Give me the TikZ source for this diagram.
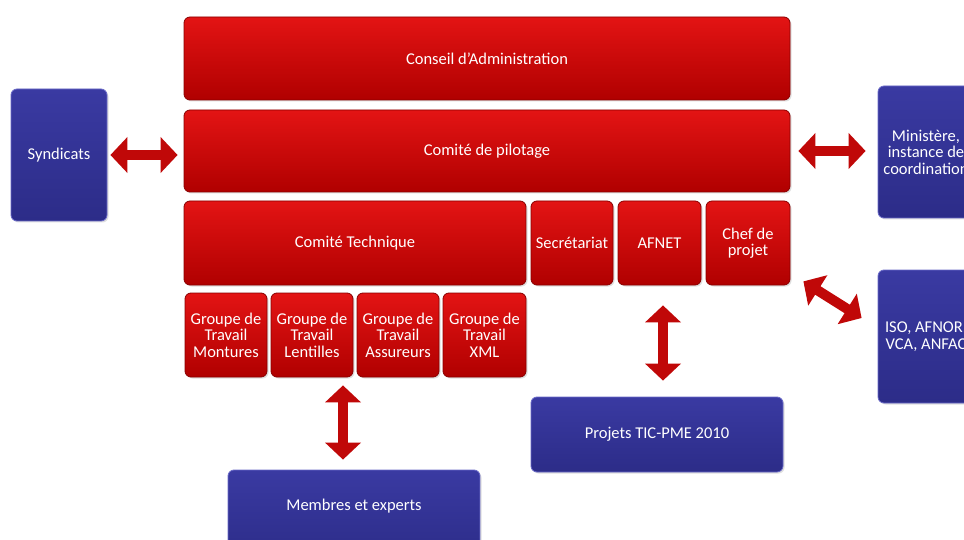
\documentclass[tikz,border=0pt]{standalone}
\usepackage{fontspec}
\setmainfont{Carlito}
\usetikzlibrary{arrows.meta,shadows,calc}
\definecolor{rtop}{HTML}{E31414}
\definecolor{rbot}{HTML}{B00000}
\definecolor{rline}{HTML}{8A0000}
\definecolor{btop}{HTML}{3A3AA2}
\definecolor{bbot}{HTML}{2C2C88}
\definecolor{bline}{HTML}{6A6AC8}
\definecolor{arr}{HTML}{C00808}
\begin{document}
\begin{tikzpicture}[x=1pt,y=-1pt,
  base/.style={rounded corners=6pt, text=white, align=center, inner sep=2pt,
    font=\fontsize{16.5}{16.5}\selectfont, line width=0.8pt,
    drop shadow={opacity=0.25, shadow xshift=1.5pt, shadow yshift=-1.5pt}},
  redbox/.style={base, top color=rtop, bottom color=rbot, draw=rline},
  bluebox/.style={base, top color=btop, bottom color=bbot, draw=bline},
  sz/.style 2 args={minimum width=#1pt, minimum height=#2pt},
  link/.style={draw=arr, line width=10pt,
    {Triangle[width=35pt,length=17pt]}-{Triangle[width=35pt,length=17pt]}},
]
\clip (0,0) rectangle (964,540);
\fill[white] (0,0) rectangle (964,540);

\node[redbox, sz={606}{83}] (conseil) at (487,58.5) {Conseil d’Administration};
\node[redbox, sz={606}{82}] (pilot) at (487,151) {Comité de pilotage};
\node[redbox, sz={342}{84}] (tech) at (355,243) {Comité Technique};
\node[redbox, sz={82}{84}] (secr) at (572,243) {Secrétariat};
\node[redbox, sz={83}{84}] (afnet) at (659.5,243) {AFNET};
\node[redbox, sz={84}{84}] (chef) at (748,243) {Chef de\\projet};

\node[redbox, sz={82}{84}] (g1) at (226,335) {Groupe de\\Travail\\Montures};
\node[redbox, sz={82}{84}] (g2) at (312,335) {Groupe de\\Travail\\Lentilles};
\node[redbox, sz={82}{84}] (g3) at (398,335) {Groupe de\\Travail\\Assureurs};
\node[redbox, sz={83}{84}] (g4) at (484.5,335) {Groupe de\\Travail\\XML};

\node[bluebox, sz={96}{132}] (syn) at (59,155) {Syndicats};
\node[bluebox, sz={96}{132}] (min) at (926,152) {Ministère,\\instance de\\coordination};
\node[bluebox, sz={96}{133}] (iso) at (926,336.5) {ISO, AFNOR,\\VCA, ANFAC};
\node[bluebox, sz={252}{75}] (proj) at (657,434.5) {Projets TIC-PME 2010};
\node[bluebox, sz={252}{90}] (memb) at (354,515) {};
\node[text=white, font=\fontsize{16.5}{16.5}\selectfont] (membt) at (354,506) {Membres et experts};

\draw[link] ([xshift=3pt]syn.east) -- ([xshift=-6pt]syn.east -| pilot.west);
\draw[link] ([xshift=8pt]pilot.east) -- ([xshift=-12pt]pilot.east -| min.west);
\draw[link] ([xshift=31pt,yshift=-8pt]g2.south) -- ([xshift=-11pt,yshift=10pt]memb.north);
\draw[link] ([xshift=3.5pt,yshift=-20pt]afnet.south) -- ([xshift=6pt,yshift=16pt]proj.north);
\draw[link] ($(chef.south east)+(13pt,4pt)$) -- ($(iso.west)+(-16pt,18.5pt)$);
\end{tikzpicture}
\end{document}
